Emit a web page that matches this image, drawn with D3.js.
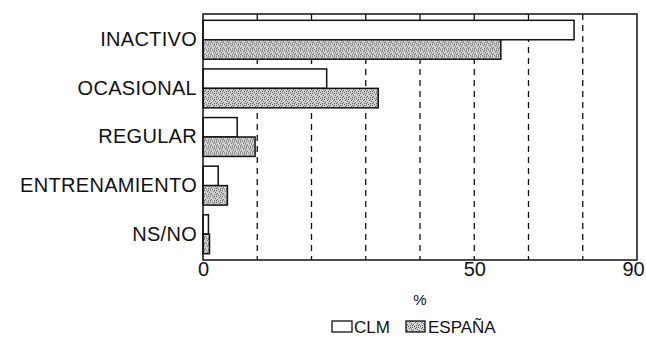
<!DOCTYPE html>
<html>
<head>
<meta charset="utf-8">
<title>Actividad física CLM / España</title>
<script src="https://d3js.org/d3.v7.min.js"></script>
<style>
  body { margin: 0; background: #fff; }
  svg text { font-family: "Liberation Sans", Arial, sans-serif; fill: #111; }
</style>
</head>
<body>
<div id="chart"></div>
<script>
// data (%)
const categories = ["INACTIVO", "OCASIONAL", "REGULAR", "ENTRENAMIENTO", "NS/NO"]
const series = ["CLM", "ESPAÑA"]
const clmValues = [68.4, 22.8, 6.3, 2.8, 1.0]
const espanaValues = [54.9, 32.3, 9.6, 4.5, 1.2]
const gridValues = [10, 20, 30, 40, 50, 60, 70]
const tickValues = [0, 50, 80]
const tickLabels = ["0", "50", "90"]

const width = 646, height = 337
const margin = { top: 14, right: 9, bottom: 77, left: 203 }

const svg = d3.select("#chart")
  .append("svg")
  .attr("width", width)
  .attr("height", height)

// stipple pattern for ESPAÑA
const defs = svg.append("defs")
const pat = defs.append("pattern")
  .attr("id", "stipple")
  .attr("patternUnits", "userSpaceOnUse")
  .attr("width", 6)
  .attr("height", 6)
pat.append("rect").attr("width", 6).attr("height", 6).attr("fill", "#d2d2d2")
const dots = [[0, 0], [3, 1], [1, 3], [4, 4], [5, 2], [2, 5], [0, 4], [4, 0]]
pat.selectAll("rect.d")
  .data(dots)
  .join("rect")
  .attr("class", "d")
  .attr("x", d => d[0])
  .attr("y", d => d[1])
  .attr("width", 1)
  .attr("height", 1)
  .attr("fill", "#555")

const x = d3.scaleLinear()
  .domain([0, 80])
  .range([margin.left, width - margin.right])

const y = d3.scaleBand()
  .domain(categories)
  .range([margin.top, height - margin.bottom])
  .paddingInner(0.2)
  .paddingOuter(0.13)

const sub = d3.scaleBand()
  .domain(series)
  .range([0, y.bandwidth()])

const fills = { "CLM": "#fff", "ESPAÑA": "url(#stipple)" }

// dashed gridlines
svg.append("g")
  .selectAll("line")
  .data(gridValues)
  .join("line")
  .attr("x1", d => x(d))
  .attr("x2", d => x(d))
  .attr("y1", margin.top)
  .attr("y2", height - margin.bottom)
  .attr("stroke", "#111")
  .attr("stroke-width", 1.3)
  .attr("stroke-dasharray", "6,5")

// bars
const rows = categories.map((c, i) => ({ cat: c, CLM: clmValues[i], "ESPAÑA": espanaValues[i] }))
svg.append("g")
  .selectAll("g")
  .data(rows)
  .join("g")
  .attr("transform", d => `translate(0, ${y(d.cat)})`)
  .selectAll("rect")
  .data(d => series.map(s => ({ key: s, value: d[s] })))
  .join("rect")
  .attr("x", x(0))
  .attr("y", d => sub(d.key))
  .attr("width", d => x(d.value) - x(0))
  .attr("height", sub.bandwidth())
  .attr("fill", d => fills[d.key])
  .attr("stroke", "#111")
  .attr("stroke-width", 1.5)

// frame
svg.append("rect")
  .attr("x", margin.left)
  .attr("y", margin.top)
  .attr("width", width - margin.right - margin.left)
  .attr("height", height - margin.bottom - margin.top)
  .attr("fill", "none")
  .attr("stroke", "#111")
  .attr("stroke-width", 1.5)

// category labels
const yAxis = svg.append("g")
  .attr("transform", `translate(${margin.left}, 0)`)
  .call(d3.axisLeft(y).tickSize(0).tickPadding(6))
yAxis.select(".domain").remove()
yAxis.selectAll("text")
  .style("font-size", "20px")
  .style("letter-spacing", "0.3px")
  .attr("fill", "#111")

// x axis labels
const xAxis = svg.append("g")
  .attr("transform", `translate(0, ${height - margin.bottom})`)
  .call(d3.axisBottom(x).tickValues(tickValues).tickFormat((d, i) => tickLabels[i]).tickSize(0).tickPadding(2))
xAxis.select(".domain").remove()
xAxis.selectAll("text")
  .style("font-size", "20px")
  .attr("fill", "#111")
xAxis.selectAll(".tick:last-of-type text").attr("dx", -4)

svg.append("text")
  .attr("x", 420)
  .attr("y", 305)
  .attr("text-anchor", "middle")
  .style("font-size", "15px")
  .text("%")

// legend
const legend = svg.append("g").attr("transform", "translate(332, 321)")
const items = legend.selectAll("g")
  .data(series)
  .join("g")
  .attr("transform", (d, i) => `translate(${i * 74}, 0)`)
items.append("rect")
  .attr("width", d => d === "CLM" ? 20 : 19)
  .attr("height", 11)
  .attr("fill", d => fills[d])
  .attr("stroke", "#111")
  .attr("stroke-width", 1.3)
items.append("text")
  .attr("x", 22)
  .attr("y", 12)
  .style("font-size", "17px")
  .text(d => d)
</script>
</body>
</html>
